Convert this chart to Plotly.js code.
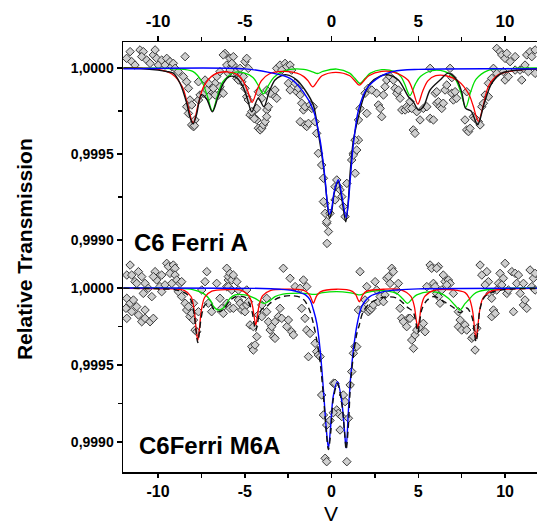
<!DOCTYPE html>
<html>
<head>
<meta charset="utf-8">
<script src="https://cdn.plot.ly/plotly-3.0.1.min.js"></script>
<style>html,body{margin:0;padding:0;background:#fff;}#chart{width:537px;height:527px;}</style>
</head>
<body>
<div id="chart"></div>
<script>
// Values: [velocity, absorption depth in units of 1e-4 below 1,0000]
const xTickVals = [-10, -5, 0, 5, 10];
const xTickText = ['-10', '-5', '0', '5', '10'];
const yTickVals = [0.9990, 0.9995, 1.0000];
const yTickText = ['0,9990', '0,9995', '1,0000'];
const panelLabels = ['C6 Ferri A', 'C6Ferri M6A'];

// ---------- Top panel: C6 Ferri A ----------
const topPoints = [
[-11.61,-0.95],[-11.81,-0.56],[-11.52,-0.37],[-11.33,-0.17],[-11.04,-1.05],[-10.85,-0.95],[-10.94,-0.66],[-10.65,-0.46],[-10.46,-0.27],[-10.27,-0.76],[-10.17,-1.05],[-10.08,-0.56],[-9.98,-0.17],[-9.79,-0.46],[-9.6,-0.17],[-9.5,-0.56],[-9.31,-0.37],[-9.21,-0.08],[-9.12,-0.27],[-9.02,0.02],[-8.83,0.21],[-8.54,0.5],[-8.44,-0.66],[-8.35,2.25],[-8.25,2.64],[-8.06,3.31],[-7.96,3.41],[-7.87,3.02],[-7.67,1.86],[-7.58,1.57],[-7.67,0.8],[-7.29,0.7],[-7.1,1.67],[-7.0,1.28],[-6.71,0.89],[-6.62,0.5],[-6.52,1.57],[-6.43,1.09],[-6.24,1.47],[-6.14,-0.85],[-6.04,-0.17],[-5.95,0.31],
[-8.35,0.8],[-8.25,1.18],[-8.16,1.86],[-8.06,2.15],[-7.9,3.35],[-7.39,1.47],[-7.19,1.28],[-7.1,0.89],[-6.81,1.18],[-6.71,1.57],[-6.43,0.21],[-6.24,-0.76],[-5.85,-0.56],[-5.75,-0.08],
[-5.66,-0.17],[-5.56,0.21],[-5.46,0.6],[-5.27,0.5],[-5.18,0.8],[-4.99,1.18],[-4.89,1.67],[-4.8,1.86],[-4.7,2.73],[-4.51,2.83],[-4.41,2.44],[-4.31,3.02],[-4.22,3.5],[-4.12,3.6],[-4.02,3.5],[-3.93,3.31],[-3.83,3.12],[-3.73,2.44],[-3.64,2.25],[-3.73,1.28],[-4.99,-0.37],[-4.89,-0.56],[-4.8,0.02],
[-5.66,-0.66],[-5.75,-0.27],[-5.85,0.12],[-5.37,0.7],[-5.27,0.02],[-5.08,0.5],[-4.6,2.54],[-4.45,2.95],[-4.31,2.35],[-3.74,2.83],[-4.22,1.38],[-4.02,1.76],[-3.35,1.57],[-3.16,1.76],[-3.26,1.28],[-3.54,1.47],[-3.16,0.02],[-2.97,-0.17],[-2.87,0.12],[-2.68,-0.27],[-2.58,-0.08],[-2.39,-0.17],[-2.3,0.12],[-2.49,0.89],[-2.39,1.28],[-2.1,0.89],[-2.01,1.38],[-1.91,1.18],[-1.81,1.57],[-1.72,2.05],[-1.62,2.44],[-1.53,2.25],[-1.81,3.12],[-1.53,3.31],[-1.43,3.4],[-1.33,3.22],[-1.24,2.15],[-1.14,2.35],[-1.05,2.25],[-0.95,3.12],[-0.86,3.8],[-0.76,4.96],[-0.57,5.64],[-0.47,6.41],[-0.37,7.87],[-0.37,8.45],[-0.28,9.03],[-0.18,9.51],[-0.26,10.2],[0.2,6.9],
[-0.47,7.77],[-0.28,8.93],[-0.09,8.45],[0.2,7.67],[0.3,6.51],[0.39,6.9],[0.49,7.09],[0.59,7.48],[0.68,8.06],[0.78,8.64],[0.88,6.71],[1.16,5.35],[1.26,4.96],[1.36,6.12],[1.55,4.19],
[1.26,5.06],[1.35,4.19],[1.45,4.77],[1.55,3.02],[1.64,2.35],[2.03,2.64],[1.93,1.47],[2.12,1.18],[2.32,1.28],[2.6,1.47],[2.7,2.15],[2.8,2.35],[2.89,2.83],[2.99,1.57],[3.08,1.09],[3.18,0.7],[3.37,0.5],[3.56,0.7],[3.66,1.18],[3.76,1.47],[3.85,1.28],[3.95,1.76],[4.05,2.44],[4.24,2.44],[4.33,2.25],[4.43,2.35],[4.52,1.96],[4.62,2.35],[4.71,3.6],[4.81,3.8],[4.91,2.54],[5.1,3.02],[5.29,2.35],[5.49,2.25],[5.68,2.93],[5.87,3.02],[6.06,2.05],[5.97,1.47],[5.68,0.02],
[6.06,1.38],[6.16,1.96],[6.25,2.25],[6.35,2.35],[6.44,2.05],[6.54,1.28],[6.64,0.99],[6.83,0.02],[6.93,0.56],[6.93,1.47],[7.02,1.86],[7.12,1.38],[7.21,1.76],[7.79,1.38],[7.69,3.02],[7.79,3.6],[7.89,3.7],[7.98,3.51],[8.17,2.83],[8.27,2.93],[8.46,3.12],[8.56,3.31],[8.66,2.25],[8.75,2.05],[8.85,1.57],[9.04,1.67],[9.04,0.89],[9.23,0.6],[9.33,0.02],[9.52,-1.14],[9.71,-0.95],[9.81,-0.76],[10.0,-0.56],[10.1,-0.85],[10.29,-0.37],[10.58,-0.66],[9.9,0.21],[10.0,0.7],[10.19,0.5],[10.58,0.12],[10.86,0.12],[10.96,0.7],[11.06,0.02],[11.15,-0.17],[11.25,-0.76],[11.44,-0.95],[11.54,-0.66],[11.73,-1.05],[11.34,0.21],[11.73,0.31],[9.52,0.31]
];
const topTotal = [
[-12,0.0],[-11,0.03],[-10,0.12],[-9.5,0.2],[-9.12,0.3],[-8.73,0.9],[-8.35,2.05],[-8.15,2.9],[-7.98,3.25],[-7.78,2.7],[-7.5,1.55],[-7.2,1.8],[-6.87,2.55],[-6.55,1.7],[-6.24,0.9],[-5.9,0.5],[-5.5,0.55],[-5.1,1.1],[-4.85,1.8],[-4.6,2.55],[-4.22,1.75],[-3.9,2.25],[-3.6,1.4],[-3.26,0.7],[-2.9,0.45],[-2.58,0.4],[-2.0,0.7],[-1.53,1.28],[-1.05,2.15],[-0.76,3.8],[-0.47,5.7],[-0.28,7.5],[-0.12,8.75],[0.0,8.4],[0.15,7.3],[0.38,6.6],[0.62,7.8],[0.82,8.95],[0.95,7.9],[1.07,6.1],[1.26,4.2],[1.55,2.83],[1.83,1.76],[2.22,0.9],[2.8,0.47],[3.27,0.4],[3.85,0.7],[4.43,1.67],[4.71,1.96],[5.0,2.44],[5.29,2.25],[5.68,1.28],[6.25,0.7],[6.73,0.3],[7.22,0.7],[7.5,1.4],[7.73,2.35],[8.04,2.5],[8.42,3.3],[8.8,2.05],[9.23,0.9],[9.81,0.3],[10.96,0.1],[11.9,0.05]
];
const topDoublet = [
[-12,0.05],[-5,0.05],[-3.54,0.27],[-2.39,0.6],[-1.62,1.4],[-1.05,2.45],[-0.66,4.2],[-0.37,6.5],[-0.25,7.8],[-0.12,8.5],[0.0,8.2],[0.15,7.2],[0.39,6.5],[0.62,7.6],[0.84,8.7],[0.96,7.9],[1.1,6.2],[1.26,4.4],[1.55,2.45],[2.03,1.2],[2.8,0.5],[3.56,0.2],[5,0.08],[11.9,0.05]
];
const topSextetRed = [
[-12,0.02],[-10,0.08],[-9.2,0.35],[-8.6,1.1],[-8.3,2.1],[-7.98,3.2],[-7.68,2.1],[-7.38,1.1],[-6.8,0.4],[-6.0,0.22],[-5.4,0.4],[-5.1,0.75],[-4.85,1.3],[-4.58,2.0],[-4.3,1.3],[-4.05,0.75],[-3.6,0.35],[-2.8,0.2],[-2.0,0.3],[-1.6,0.5],[-1.35,0.75],[-1.08,1.1],[-0.8,0.75],[-0.55,0.45],[0.25,0.25],[1.05,0.45],[1.3,0.7],[1.6,1.0],[1.9,0.7],[2.15,0.45],[2.9,0.2],[3.6,0.25],[4.4,0.7],[4.7,1.35],[4.97,2.1],[5.25,1.35],[5.55,0.75],[6.0,0.45],[6.6,0.45],[7.3,0.75],[7.9,1.5],[8.16,2.2],[8.46,3.1],[8.76,2.1],[9.05,1.05],[9.6,0.4],[10.5,0.15],[11.9,0.05]
];
const topSextetGreen = [
[-12,0.0],[-9,0.05],[-8.0,0.2],[-7.47,0.8],[-7.17,1.6],[-6.87,2.5],[-6.57,1.6],[-6.27,0.8],[-5.6,0.25],[-5.0,0.3],[-4.53,0.55],[-4.23,1.0],[-3.93,1.5],[-3.63,1.0],[-3.33,0.55],[-2.7,0.15],[-1.6,0.08],[-1.1,0.22],[-0.8,0.32],[-0.5,0.2],[0.3,0.06],[1.04,0.3],[1.34,0.6],[1.64,0.9],[1.94,0.6],[2.24,0.3],[2.9,0.1],[3.6,0.2],[4.0,0.5],[4.22,0.95],[4.52,1.6],[4.82,0.95],[5.12,0.5],[5.8,0.15],[6.5,0.2],[7.1,0.6],[7.43,1.35],[7.73,2.3],[8.03,1.35],[8.33,0.65],[9.0,0.15],[10,0.04],[11.9,0]
];

// ---------- Bottom panel: C6Ferri M6A ----------
const botPoints = [
[-11.61,-1.49],[-11.8,-0.84],[-11.52,-0.84],[-11.33,-0.41],[-11.13,-1.06],[-10.94,-0.74],[-10.75,-0.3],[-10.85,0.35],[-10.56,0.02],[-10.36,0.56],[-10.17,-1.06],[-10.08,-0.52],[-10.27,-0.74],[-9.89,-0.09],[-9.79,-0.84],[-9.79,0.24],[-9.6,-0.2],[-9.5,-1.6],[-9.4,-1.39],[-9.31,-0.95],[-9.12,-1.49],[-9.02,-1.28],[-9.02,-0.84],[-9.21,-0.3],[-8.92,-0.52],[-8.73,-0.3],[-8.64,-0.41],[-8.83,0.24],[-8.44,0.99],[-8.35,1.43],[-8.25,1.21],[-8.16,1.86],[-8.06,1.65],[-7.96,2.08],[-7.87,2.73],[-7.77,2.84],[-7.67,1.54],[-7.96,0.99],[-8.64,0.56],[-7.48,0.13],[-7.19,-1.06],[-7.29,-0.41],[-7.1,0.99],[-6.91,1.54],[-6.62,-0.3],[-6.43,0.67],[-6.33,1.32],[-6.24,1.65],[-6.04,-0.09],[-5.95,-0.52],[-11.8,0.67],[-11.85,1.32],[-11.8,1.97],[-11.61,0.99],[-11.42,0.78],[-11.23,1.21],[-11.13,1.75],[-10.75,1.43],[-10.94,2.19],[-10.75,1.97],[-10.46,2.19],[-10.27,1.97],[-11.52,1.54],[-11.23,-0.3],
[-6.04,-1.28],[-5.95,-0.74],[-5.85,-0.95],[-5.75,-0.52],[-5.66,-0.84],[-5.46,-0.41],[-5.95,-0.09],[-5.75,0.13],[-6.04,0.99],[-5.85,1.32],[-5.66,1.32],[-5.37,0.78],[-5.27,0.99],[-5.18,1.43],[-5.08,1.21],[-4.99,1.54],[-4.89,1.1],[-4.79,0.89],[-4.7,2.4],[-4.6,3.81],[-4.51,4.03],[-4.41,3.7],[-4.31,3.16],[-4.51,2.51],[-4.22,1.75],[-4.02,1.1],[-3.74,1.54],[-3.64,2.19],[-3.54,2.73],[-3.45,2.51],[-3.35,3.16],[-3.26,3.27],[-3.26,2.19],[-3.06,1.86],[-2.97,1.32],[-2.87,1.97],[-2.58,2.51],[-2.49,2.08],[-2.3,2.84],[-2.2,3.05],[-2.78,-1.28],[-2.39,-0.63],[-2.1,-0.09],[-1.81,0.02],[-1.62,-0.52],[-1.43,-0.09],[-1.53,1.97],[-1.43,2.73],[-1.24,2.95],[-1.33,4.46],[-0.95,3.59],[-0.86,4.13],[-0.76,4.35],[-0.66,4.46],[-0.57,6.95],[-0.47,8.25],[-0.28,8.9],[-0.37,11.06],[-0.28,11.28],[0.11,6.19],[-1.72,1.32],[-3.74,0.67],[-4.02,1.86],[-4.89,0.13],[-5.37,0.13],
[0.2,6.19],[0.3,7.92],[0.39,8.14],[0.49,9.22],[0.59,8.35],[0.68,6.95],[0.78,7.38],[0.88,11.28],[0.97,8.46],[1.07,6.3],[1.16,5.43],[1.26,4.24],[1.35,3.81],[1.45,3.81],[1.55,1.43],[1.64,-1.06],[1.83,1.32],[1.93,0.78],[2.03,-0.09],[2.12,1.54],[2.22,1.43],[2.32,1.32],[2.41,1.1],[2.51,-0.41],[2.6,0.13],[2.7,0.89],[2.8,0.56],[2.99,0.89],[3.08,0.45],[3.18,-0.63],[3.28,-0.74],[3.37,-0.3],[3.47,-1.28],[3.56,-1.06],[3.76,0.13],[3.85,-0.3],[3.95,1.32],[4.04,1.97],[4.14,2.19],[4.33,2.51],[4.43,1.97],[4.52,1.97],[4.62,3.38],[4.72,3.92],[4.81,3.05],[4.91,2.73],[5.1,2.51],[5.29,2.3],[5.39,2.84],[5.49,-0.09],[5.68,-1.49],[5.87,-0.3],[5.97,-0.09],[6.06,0.35],[6.16,-1.39],[5.77,-1.28],[-0.09,8.6],[0.1,8.1],
[6.06,-1.28],[6.44,-0.84],[6.54,-0.41],[6.73,-0.52],[6.83,-0.3],[6.64,-0.2],[6.35,0.13],[6.25,0.99],[6.16,0.56],[7.02,0.35],[7.31,1.54],[7.41,2.08],[7.31,2.51],[7.5,2.73],[7.69,2.4],[7.79,2.73],[8.08,3.27],[8.17,3.16],[8.27,4.03],[8.37,2.62],[8.56,-1.49],[8.66,-0.84],[8.95,-1.06],[9.04,-0.41],[8.85,-0.2],[9.14,0.35],[9.23,0.67],[9.33,1.43],[9.23,1.86],[9.43,1.65],[9.52,0.13],[9.62,-0.3],[9.71,-0.95],[9.9,-0.63],[10.0,-1.6],[10.39,-1.06],[10.48,1.54],[10.58,-0.95],[10.77,-0.84],[10.67,-0.3],[10.87,0.35],[11.06,1.1],[11.15,0.78],[11.25,1.32],[11.44,-1.17],[11.63,-0.63],[11.73,-0.95],[11.54,-0.09],[11.73,0.13],[10.1,0.35],[9.81,-0.2],[11.06,-0.3],[10.19,0.13]
];
const botTotal = [
[-12,0.02],[-10,0.05],[-9,0.12],[-8.4,0.35],[-8.1,0.8],[-7.91,1.8],[-7.81,2.8],[-7.71,3.55],[-7.61,2.8],[-7.51,1.9],[-7.3,1.1],[-7.0,1.0],[-6.8,1.35],[-6.55,1.55],[-6.24,1.4],[-5.85,0.8],[-5.5,0.55],[-5.0,0.6],[-4.77,0.95],[-4.57,1.6],[-4.47,2.3],[-4.37,2.8],[-4.27,2.3],[-4.17,1.7],[-4.0,1.35],[-3.87,1.35],[-3.6,1.05],[-3.26,0.75],[-2.8,0.55],[-2.29,0.5],[-1.8,0.6],[-1.53,0.85],[-1.25,1.5],[-1.05,2.3],[-0.85,3.4],[-0.66,4.8],[-0.47,7.0],[-0.3,9.4],[-0.18,10.5],[-0.05,9.4],[0.1,7.2],[0.34,6.2],[0.6,7.6],[0.75,9.4],[0.84,10.5],[0.96,9.1],[1.1,6.1],[1.26,4.4],[1.45,3.0],[1.6,2.4],[1.8,1.6],[2.2,1.0],[3.0,0.6],[3.75,0.65],[4.1,0.95],[4.37,1.25],[4.7,1.55],[4.87,2.3],[4.97,2.9],[5.07,2.3],[5.2,1.4],[5.5,0.8],[5.9,0.55],[6.5,0.9],[7.0,1.25],[7.4,1.6],[7.8,1.3],[8.1,1.9],[8.23,2.9],[8.33,3.5],[8.43,2.8],[8.55,1.4],[8.8,0.6],[9.2,0.3],[10.0,0.1],[11.9,0.03]
];
const botDoublet = [
[-12,0],[-4,0.03],[-3,0.08],[-2.3,0.15],[-1.8,0.3],[-1.5,0.45],[-1.24,0.78],[-1.05,1.4],[-0.85,2.3],[-0.66,4.0],[-0.47,6.6],[-0.3,9.2],[-0.18,10.4],[-0.06,9.1],[0.1,7.0],[0.34,6.08],[0.58,7.3],[0.74,9.2],[0.84,10.4],[0.97,8.0],[1.1,5.8],[1.26,4.0],[1.45,2.5],[1.74,1.2],[2.2,0.56],[3.0,0.24],[3.8,0.13],[5.0,0.06],[11.9,0.02]
];
const botSextetRed = [
[-12,0.02],[-9.5,0.05],[-8.5,0.15],[-8.1,0.55],[-7.91,1.5],[-7.81,2.6],[-7.71,3.4],[-7.61,2.6],[-7.51,1.5],[-7.31,0.6],[-6.9,0.2],[-6,0.1],[-5.2,0.15],[-4.77,0.5],[-4.57,1.1],[-4.47,1.8],[-4.37,2.4],[-4.27,1.8],[-4.17,1.1],[-3.97,0.5],[-3.5,0.15],[-2.5,0.08],[-1.7,0.12],[-1.45,0.25],[-1.25,0.5],[-1.15,0.75],[-1.05,1.0],[-0.95,0.75],[-0.85,0.5],[-0.65,0.25],[0.3,0.08],[1.2,0.22],[1.4,0.45],[1.5,0.7],[1.6,0.9],[1.7,0.7],[1.8,0.45],[2.0,0.22],[3.0,0.08],[4.0,0.12],[4.57,0.55],[4.77,1.2],[4.87,2.0],[4.97,2.6],[5.07,2.0],[5.17,1.2],[5.37,0.55],[5.9,0.15],[7.0,0.12],[7.7,0.3],[7.93,0.65],[8.13,1.5],[8.23,2.5],[8.33,3.3],[8.43,2.5],[8.53,1.5],[8.73,0.65],[9.2,0.2],[10.5,0.05],[11.9,0.02]
];
const botSextetGreen = [
[-12,0],[-9,0.02],[-8,0.1],[-7.39,0.35],[-7.0,0.78],[-6.8,1.2],[-6.55,1.43],[-6.24,1.3],[-5.85,0.67],[-5.56,0.45],[-5.0,0.45],[-4.41,0.67],[-4.1,0.9],[-3.87,1.0],[-3.6,0.85],[-3.26,0.56],[-2.8,0.4],[-2.29,0.35],[-1.5,0.35],[-1.0,0.42],[-0.5,0.3],[0.3,0.24],[1.0,0.3],[1.35,0.38],[1.64,0.45],[2.0,0.3],[2.6,0.17],[3.2,0.2],[3.75,0.35],[4.1,0.7],[4.37,1.0],[4.65,0.7],[4.91,0.45],[5.68,0.24],[6.3,0.35],[6.73,0.67],[7.1,1.1],[7.4,1.43],[7.7,1.0],[7.89,0.78],[8.2,0.4],[8.46,0.24],[9.5,0.05],[11.9,0]
];

// depth (units of 1e-4) -> relative transmission
const toT = d => 1 - d * 1e-4;
const xs = arr => arr.map(p => p[0]);
const ys = arr => arr.map(p => toT(p[1]));

const FONT = 'Liberation Sans, Arial, sans-serif';
const marker = {symbol: 'diamond', size: 6.5, color: '#cfcfcf', line: {color: '#3a3a3a', width: 1}};

function curve(arr, color, xa, ya, dash, width) {
  return {x: xs(arr), y: ys(arr), xaxis: xa, yaxis: ya, mode: 'lines', type: 'scatter',
          line: {color: color, width: width || 1.3, shape: 'spline', smoothing: 0.9, dash: dash || 'solid'},
          hoverinfo: 'skip', showlegend: false};
}

const data = [
  {x: xs(topPoints), y: ys(topPoints), xaxis: 'x', yaxis: 'y', mode: 'markers', type: 'scatter', marker: marker, showlegend: false},
  curve(topSextetGreen, '#00e000', 'x', 'y'),
  curve(topSextetRed, '#ff0000', 'x', 'y'),
  curve(topTotal, '#111111', 'x', 'y', 'solid', 1.4),
  curve(topDoublet, '#0000ff', 'x', 'y', 'solid', 1.4),
  {x: xs(botPoints), y: ys(botPoints), xaxis: 'x2', yaxis: 'y2', mode: 'markers', type: 'scatter', marker: marker, showlegend: false},
  curve(botSextetGreen, '#00e000', 'x2', 'y2'),
  curve(botSextetRed, '#ff0000', 'x2', 'y2'),
  curve(botDoublet, '#0000ff', 'x2', 'y2', 'solid', 1.4),
  curve(botTotal, '#111111', 'x2', 'y2', '6px,4px', 1.4)
];

const xCommon = {
  range: [-12.02, 11.84], tickmode: 'array', tickvals: xTickVals, ticktext: xTickText,
  ticks: 'outside', ticklen: 5, tickwidth: 1.5, tickcolor: '#000',
  showline: true, linecolor: '#000', linewidth: 1.5, mirror: false,
  showgrid: false, zeroline: false,
  tickfont: {family: FONT, size: 17, color: '#000', weight: 'bold'},
  minor: {tickmode: 'array', tickvals: [-7.5, -2.5, 2.5, 7.5], ticks: 'outside', ticklen: 4, tickwidth: 1.5, tickcolor: '#000', showgrid: false}
};
const yCommon = {
  tickmode: 'array', tickvals: yTickVals, ticktext: yTickText,
  ticks: 'outside', ticklen: 5, tickwidth: 1.5, tickcolor: '#000',
  showline: true, linecolor: '#000', linewidth: 1.5, mirror: false,
  showgrid: false, zeroline: false,
  tickfont: {family: FONT, size: 14, color: '#000', weight: 'bold'},
  minor: {tickmode: 'array', tickvals: [0.99925, 0.99975], ticks: 'outside', ticklen: 4, tickwidth: 1.5, tickcolor: '#000', showgrid: false}
};

const layout = {
  width: 537, height: 527,
  margin: {l: 123, r: 0, t: 42, b: 55, pad: 0},
  paper_bgcolor: '#fff', plot_bgcolor: '#fff',
  showlegend: false,
  xaxis: Object.assign({}, xCommon, {anchor: 'y', side: 'top', domain: [0, 1], ticklabelstandoff: 2}),
  xaxis2: Object.assign({}, xCommon, {anchor: 'y2', side: 'bottom', domain: [0, 1], matches: 'x', ticklen: 4,
    tickfont: {family: FONT, size: 16, color: '#000', weight: 'bold'}}),
  yaxis: Object.assign({}, yCommon, {domain: [0.5, 1], range: [0.998901, 1.0001512]}),
  yaxis2: Object.assign({}, yCommon, {domain: [0, 0.5], range: [0.998805, 1.0002013]}),
  annotations: [
    {text: panelLabels[0], xref: 'paper', yref: 'paper', x: 0.022, y: 0.5337, xanchor: 'left', yanchor: 'middle', showarrow: false,
     font: {family: FONT, size: 24, color: '#000', weight: 'bold'}},
    {text: panelLabels[1], xref: 'paper', yref: 'paper', x: 0.034, y: 0.0605, xanchor: 'left', yanchor: 'middle', showarrow: false,
     font: {family: FONT, size: 24, color: '#000', weight: 'bold'}},
    {text: 'Relative Transmission', xref: 'paper', yref: 'paper', x: -0.239, y: 0.5186, xanchor: 'center', yanchor: 'middle', textangle: -90, showarrow: false,
     font: {family: FONT, size: 21, color: '#000', weight: 'bold'}},
    {text: 'V', xref: 'paper', yref: 'paper', x: 0.5024, y: -0.1265, xanchor: 'center', yanchor: 'bottom', showarrow: false, borderpad: 0,
     font: {family: FONT, size: 21, color: '#000'}}
  ]
};

Plotly.newPlot('chart', data, layout, {staticPlot: true, displayModeBar: false});
</script>
</body>
</html>
